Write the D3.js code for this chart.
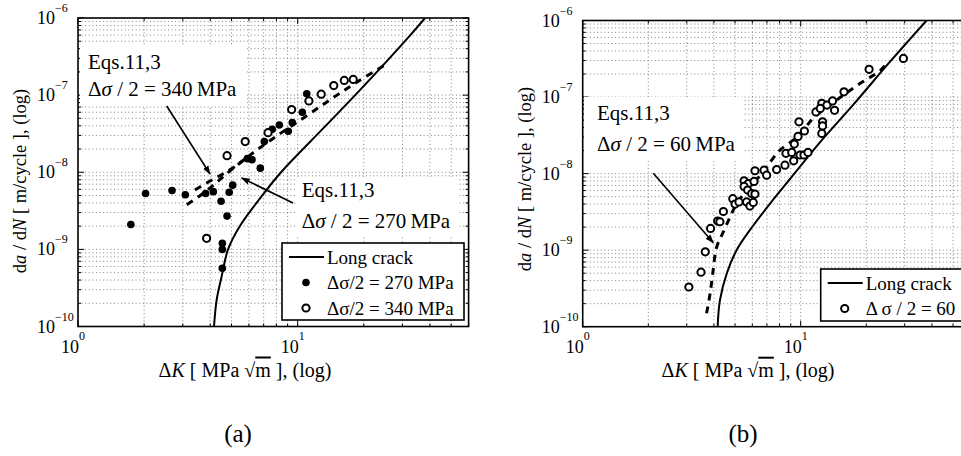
<!DOCTYPE html>
<html>
<head>
<meta charset="utf-8">
<script src="https://cdn.jsdelivr.net/npm/d3@7"></script>
<style>
  body { margin: 0; background: #fff; }
  svg { display: block; font-family: "Liberation Serif", "Times New Roman", serif; }
</style>
</head>
<body>
<svg id="chart" width="961" height="456"></svg>
<script>
// panel (a) values: [dK, da/dN]
const dots270 = [[1.74,2.1e-9],[2.03,5.3e-9],[2.68,5.8e-9],[3.08,5.1e-9],[3.81,5.3e-9],[4.13,5.6e-9],
  [4.48,4.2e-9],[4.88,5.5e-9],[5.06,6.8e-9],[4.77,2.7e-9],[4.54,1.2e-9],[4.54,1.0e-9],[4.54,5.7e-10],
  [5.9,1.5e-8],[6.2,1.45e-8],[6.76,1.13e-8],[7.05,2.5e-8],[7.66,3.6e-8],[8.25,4.1e-8],[9.06,3.4e-8],
  [9.45,4.4e-8],[10.5,6.0e-8],[11.0,1.04e-7]];
const rings340 = [[3.85,1.39e-9],[4.77,1.64e-8],[5.77,2.5e-8],[7.33,3.26e-8],[9.39,6.5e-8],[11.25,8.4e-8],
  [12.8,1.03e-7],[14.6,1.33e-7],[16.3,1.55e-7],[17.9,1.6e-7]];
const longCrackA = [[4.16,1e-10],[4.28,2.24e-10],[4.51,4.5e-10],[4.82,1e-9],[5.45,2e-9],[6.9,5e-9],
  [8.4,1e-8],[13.3,3.9e-8],[19.2,1.16e-7],[32.5,5.96e-7],[38,1e-6]];
const model270 = [[3.13,3.8e-9],[3.59,4.95e-9],[4.11,6.7e-9],[4.67,9.2e-9],[5.46,1.32e-8],[6.53,1.95e-8],
  [7.89,2.86e-8],[9.52,4.1e-8],[12.0,6.4e-8],[15.1,1.0e-7],[19.2,1.56e-7],[25.8,2.6e-7]];
const model340 = [[3.41,5.9e-9],[3.99,7.7e-9],[4.57,9.5e-9],[5.24,1.21e-8],[6.07,1.68e-8]];

// panel (b)
const rings60 = [[3.07,3.3e-10],[3.49,5.15e-10],[3.65,9.5e-10],[3.86,1.92e-9],[4.16,2.4e-9],[4.26,2.35e-9],
  [4.42,3.2e-9],[4.88,4.7e-9],[5.0,4.0e-9],[5.21,4.26e-9],[5.5,8.05e-9],[5.75,7.4e-9],[5.5,6.8e-9],
  [5.71,6.1e-9],[5.96,5.5e-9],[6.17,5.4e-9],[5.65,4.26e-9],[5.85,3.76e-9],[6.06,4.2e-9],[6.11,7.9e-9],
  [6.17,1.09e-8],[6.79,1.11e-8],[6.98,9.55e-9],[7.76,1.13e-8],[8.47,1.29e-8],[8.56,1.84e-8],[9.1,1.89e-8],
  [9.29,1.47e-8],[9.35,2.43e-8],[9.72,3.06e-8],[10.4,3.6e-8],[9.82,4.75e-8],[9.93,1.75e-8],[10.35,1.75e-8],
  [10.8,1.89e-8],[11.75,6.4e-8],[12.5,8.3e-8],[13.2,7.85e-8],[12.3,7.1e-8],[14.0,8.9e-8],[14.3,6.7e-8],
  [12.6,4.75e-8],[12.6,4.2e-8],[12.5,3.35e-8],[15.8,1.17e-7],[20.6,2.3e-7],[29.6,3.2e-7]];
const longCrackB = [[4.16,1e-10],[4.26,2.2e-10],[4.58,4.95e-10],[5.08,1e-9],[6.06,2.1e-9],[7.49,4.6e-9],
  [8.93,8.5e-9],[12.7,2.88e-8],[17.4,7.9e-8],[25.7,2.9e-7],[37.8,1e-6]];
const model60 = [[3.7,1.5e-10],[3.84,2.7e-10],[3.95,4.95e-10],[4.12,1.1e-9],[4.42,1.74e-9],[4.74,2.7e-9],
  [5.0,3.7e-9],[5.65,6.1e-9],[6.74,1.05e-8],[7.36,1.5e-8],[8.04,2.03e-8],[9.25,2.74e-8],[10.3,3.7e-8],
  [11.4,5.3e-8],[13.6,7.85e-8],[18.7,1.5e-7],[23.1,2.2e-7],[25.2,2.9e-7]];

const xDomain = [1, 60];
const yDomain = [1e-10, 1e-6];
const xTickVals = [1, 10];
const xTickExp = ['0', '1'];
const yTickVals = [1e-10, 1e-9, 1e-8, 1e-7, 1e-6];
const yTickExp = ['\u221210', '\u22129', '\u22128', '\u22127', '\u22126'];

const svg = d3.select('#chart');

const defs = svg.append('defs');
defs.append('marker')
  .attr('id', 'arrow')
  .attr('viewBox', '0 0 10 10')
  .attr('refX', 9).attr('refY', 5)
  .attr('markerWidth', 9).attr('markerHeight', 9)
  .attr('markerUnits', 'userSpaceOnUse')
  .attr('orient', 'auto')
  .append('path').attr('d', 'M0,1.5 L10,5 L0,8.5 Z').attr('fill', '#000');

function panel(o) {
  const x = d3.scaleLog().domain(xDomain).range([o.left, o.right]);
  const y = d3.scaleLog().domain(yDomain).range([o.bottom, o.top]);
  const g = svg.append('g');

  defs.append('clipPath').attr('id', 'clip' + o.id)
    .append('rect')
    .attr('x', o.left).attr('y', o.top)
    .attr('width', o.right - o.left).attr('height', o.bottom - o.top);

  // dotted grid
  const grid = g.append('g').attr('stroke', '#666').attr('stroke-width', 0.8)
    .attr('stroke-dasharray', '1,2.6');
  grid.selectAll('.gx').data(x.ticks().filter(d => d > xDomain[0] && d < xDomain[1]))
    .enter().append('line')
    .attr('x1', d => x(d)).attr('x2', d => x(d))
    .attr('y1', o.top).attr('y2', o.bottom);
  grid.selectAll('.gy').data(y.ticks().filter(d => d > yDomain[0] * 1.01 && d < yDomain[1] * 0.99))
    .enter().append('line')
    .attr('y1', d => y(d)).attr('y2', d => y(d))
    .attr('x1', o.left).attr('x2', o.right);

  // inside ticks on all sides
  const isMajor = d => Math.abs(Math.log10(d) - Math.round(Math.log10(d))) < 1e-6;
  const tk = g.append('g').attr('stroke', '#000').attr('stroke-width', 1);
  x.ticks().forEach(d => {
    const L = isMajor(d) ? 6 : 3;
    tk.append('line').attr('x1', x(d)).attr('x2', x(d)).attr('y1', o.bottom).attr('y2', o.bottom - L);
    tk.append('line').attr('x1', x(d)).attr('x2', x(d)).attr('y1', o.top).attr('y2', o.top + L);
  });
  y.ticks().forEach(d => {
    const L = isMajor(d) ? 6 : 3;
    tk.append('line').attr('y1', y(d)).attr('y2', y(d)).attr('x1', o.left).attr('x2', o.left + L);
    tk.append('line').attr('y1', y(d)).attr('y2', y(d)).attr('x1', o.right).attr('x2', o.right - L);
  });

  // tick labels, 10 with superscript
  xTickVals.forEach((d, i) => {
    g.append('text').attr('x', x(d) + 1).attr('y', o.bottom + 26)
      .attr('text-anchor', 'end').attr('font-size', 18).text('10');
    g.append('text').attr('x', x(d) + 1).attr('y', o.bottom + 13)
      .attr('font-size', 12).text(xTickExp[i]);
  });
  yTickVals.forEach((d, i) => {
    g.append('text').attr('x', o.left - 23).attr('y', y(d) + 6)
      .attr('text-anchor', 'end').attr('font-size', 18).text('10');
    g.append('text').attr('x', o.left - 23).attr('y', y(d) - 6)
      .attr('font-size', 12).text(yTickExp[i]);
  });

  // axis titles
  const xl = g.append('text').attr('x', o.xLabelX).attr('y', o.bottom + 50)
    .attr('text-anchor', 'middle').attr('font-size', 20);
  xl.append('tspan').text('\u0394');
  xl.append('tspan').attr('font-style', 'italic').text('K');
  xl.append('tspan').text(' [ MPa ');
  xl.append('tspan').text('\u221a');
  xl.append('tspan').attr('text-decoration', 'overline').text('m');
  xl.append('tspan').text(' ], (log)');

  const yl = g.append('text')
    .attr('transform', `translate(${o.yLabelX},${o.yLabelY}) rotate(-90)`)
    .attr('text-anchor', 'middle').attr('font-size', 18.5);
  yl.append('tspan').text('d');
  yl.append('tspan').attr('font-style', 'italic').text('a');
  yl.append('tspan').text(' / d');
  yl.append('tspan').attr('font-style', 'italic').text('N');
  yl.append('tspan').text(' [ m/cycle ], (log)');

  // white boxes behind annotations
  o.notes.forEach(n => {
    g.append('rect').attr('x', n.box[0]).attr('y', n.box[1])
      .attr('width', n.box[2]).attr('height', n.box[3]).attr('fill', '#fff');
  });

  const plot = g.append('g').attr('clip-path', `url(#clip${o.id})`);
  const curve = d3.line().x(d => x(d[0])).y(d => y(d[1])).curve(d3.curveCatmullRom);

  plot.append('path').datum(o.longCrack)
    .attr('d', curve)
    .attr('fill', 'none').attr('stroke', '#000').attr('stroke-width', 2);

  o.models.forEach(m => {
    plot.append('path').datum(m)
      .attr('d', curve)
      .attr('fill', 'none').attr('stroke', '#000').attr('stroke-width', 3)
      .attr('stroke-dasharray', '7,6');
  });

  o.series.forEach(s => {
    plot.selectAll(null).data(s.data).enter().append('circle')
      .attr('cx', d => x(d[0])).attr('cy', d => y(d[1]))
      .attr('r', s.filled ? 3.8 : 3.6)
      .attr('fill', s.filled ? '#000' : '#fff')
      .attr('stroke', '#000').attr('stroke-width', s.filled ? 0 : 2);
  });

  // annotations
  o.notes.forEach(n => {
    g.append('text').attr('x', n.tx).attr('y', n.ty).attr('font-size', 21).text('Eqs.11,3');
    const t = g.append('text').attr('x', n.tx).attr('y', n.ty + n.gap).attr('font-size', 21);
    t.append('tspan').text('\u0394');
    t.append('tspan').attr('font-style', 'italic').text('\u03c3');
    t.append('tspan').text(' / 2 = ' + n.value + '\u2009MPa');
    g.append('line').attr('x1', n.arrow[0]).attr('y1', n.arrow[1])
      .attr('x2', n.arrow[2]).attr('y2', n.arrow[3])
      .attr('stroke', '#000').attr('stroke-width', 1.6).attr('marker-end', 'url(#arrow)');
  });

  // frame
  g.append('rect').attr('x', o.left).attr('y', o.top)
    .attr('width', o.right - o.left).attr('height', o.bottom - o.top)
    .attr('fill', 'none').attr('stroke', '#000').attr('stroke-width', 1.6);

  // legend
  const lg = o.legend;
  g.append('rect').attr('x', lg.x).attr('y', lg.y).attr('width', lg.w).attr('height', lg.h)
    .attr('fill', '#fff').attr('stroke', '#000').attr('stroke-width', 1.6);
  lg.items.forEach((it, i) => {
    const cy = lg.y + 14 + i * 25.5;
    if (it.kind === 'line') {
      g.append('line').attr('x1', lg.x + 7).attr('x2', lg.x + 42)
        .attr('y1', cy).attr('y2', cy).attr('stroke', '#000').attr('stroke-width', 2);
    } else {
      g.append('circle').attr('cx', lg.x + 24).attr('cy', cy)
        .attr('r', it.kind === 'dot' ? 3.8 : 3.6)
        .attr('fill', it.kind === 'dot' ? '#000' : '#fff')
        .attr('stroke', '#000').attr('stroke-width', it.kind === 'dot' ? 0 : 2);
    }
    g.append('text').attr('x', lg.x + 45).attr('y', cy + 6.5).attr('font-size', 19).text(it.label);
  });

  svg.append('text').attr('x', o.captionX).attr('y', 442)
    .attr('text-anchor', 'middle').attr('font-size', 25).text(o.caption);
}

panel({
  id: 'a', left: 78, right: 468.6, top: 18, bottom: 326.5,
  xLabelX: 245, yLabelX: 26, yLabelY: 181,
  longCrack: longCrackA, models: [model270, model340],
  series: [{ data: dots270, filled: true }, { data: rings340, filled: false }],
  notes: [
    { box: [80, 46, 165, 60], tx: 88, ty: 69, gap: 27, value: '340', arrow: [166.7, 106, 210, 174] },
    { box: [296, 177, 162, 60], tx: 301.7, ty: 197, gap: 31, value: '270', arrow: [293, 203, 241.7, 178] }
  ],
  legend: { x: 282, y: 243, w: 182, h: 77, items: [
    { kind: 'line', label: 'Long crack' },
    { kind: 'dot', label: '\u0394\u03c3/2 = 270 MPa' },
    { kind: 'ring', label: '\u0394\u03c3/2 = 340 MPa' }
  ] },
  caption: '(a)', captionX: 238
});

panel({
  id: 'b', left: 582.7, right: 970.3, top: 20.5, bottom: 326.7,
  xLabelX: 748, yLabelX: 531, yLabelY: 179,
  longCrack: longCrackB, models: [model60],
  series: [{ data: rings60, filled: false }],
  notes: [
    { box: [584, 97, 160, 64], tx: 597, ty: 120, gap: 31, value: '60', arrow: [653.3, 173.3, 713.3, 242.7] }
  ],
  legend: { x: 820.7, y: 269, w: 180, h: 52, items: [
    { kind: 'line', label: 'Long crack' },
    { kind: 'ring', label: '\u0394 \u03c3 / 2 = 60' }
  ] },
  caption: '(b)', captionX: 743
});
</script>
</body>
</html>
